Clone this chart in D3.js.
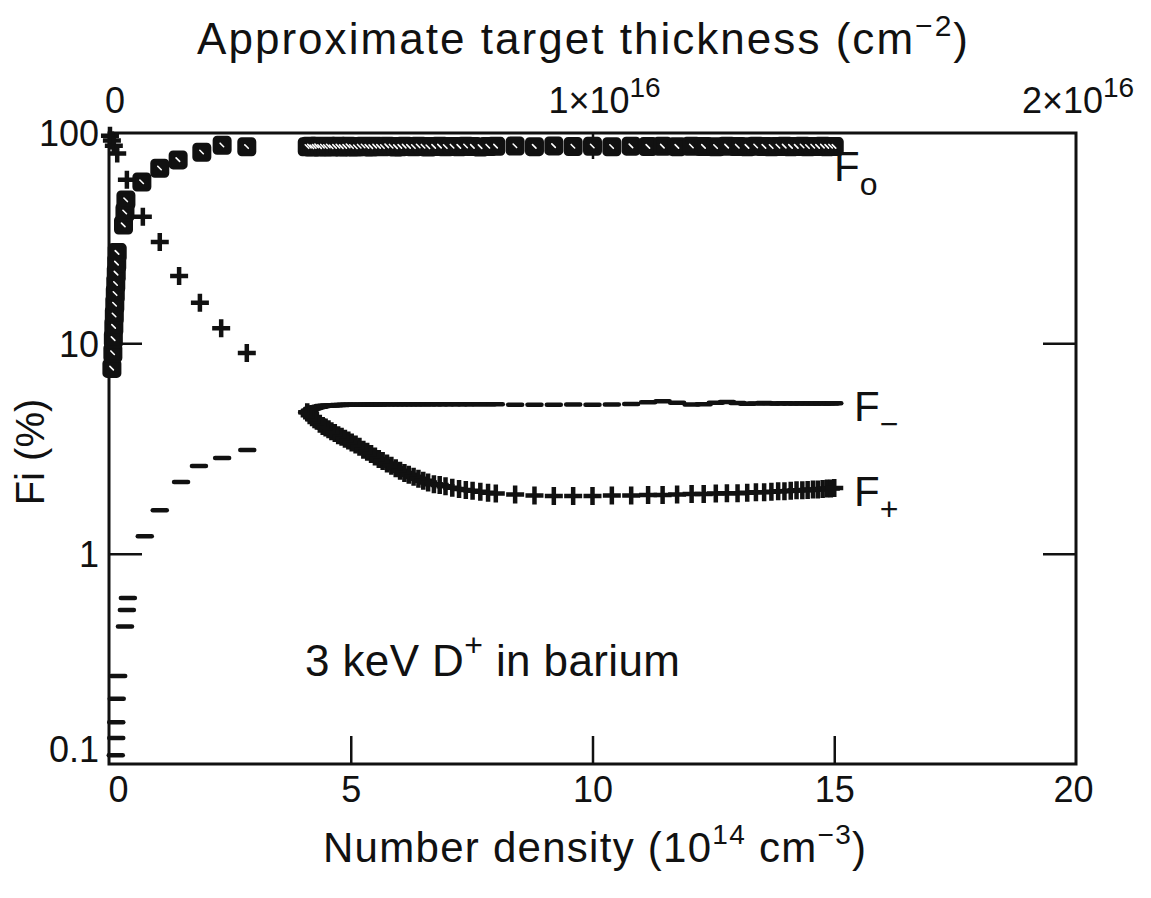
<!DOCTYPE html>
<html>
<head>
<meta charset="utf-8">
<script src="https://cdn.jsdelivr.net/npm/d3@7"></script>
<style>
  body { margin: 0; background: #fff; }
  svg text { font-family: "Liberation Sans", Arial, sans-serif; fill: #111; }
</style>
</head>
<body>
<svg id="chart" width="1151" height="898"></svg>
<script>
// ---- charge-state fractions of 3 keV D+ after a barium vapour target ----

// low-density runs (density in 1e14 cm^-3, fraction in %)
const f0LowDensity   = [0.06, 0.08, 0.09, 0.10, 0.11, 0.12, 0.13, 0.14, 0.15, 0.16, 0.17, 0.30, 0.33, 0.35, 0.68, 1.05, 1.43, 1.92, 2.34, 2.85];
const f0LowValue     = [7.6, 9.0, 10.5, 12.0, 13.6, 15.3, 17.2, 19.2, 21.5, 24.0, 27.0, 36.5, 42.0, 48.0, 58.5, 68.0, 74.5, 81.0, 87.5, 86.0];

const fPlusLowDensity = [0.02, 0.06, 0.10, 0.17, 0.37, 0.70, 1.05, 1.45, 1.88, 2.32, 2.85];
const fPlusLowValue   = [97, 92, 87, 80, 60, 40, 30.3, 20.9, 15.6, 11.8, 9.0];

const fMinusLowDensity = [0.14, 0.15, 0.15, 0.16, 0.19, 0.33, 0.37, 0.39, 0.74, 1.05, 1.49, 1.86, 2.34, 2.86];
const fMinusLowValue   = [0.11, 0.133, 0.158, 0.204, 0.262, 0.45, 0.54, 0.615, 1.21, 1.61, 2.19, 2.61, 2.85, 3.11];

// continuous density sweep from 4 to 15 (same densities for all three fractions)
const sweepDensity = [4.10, 4.15, 4.20, 4.25, 4.30, 4.36, 4.42, 4.48, 4.54, 4.60,
                      4.67, 4.74, 4.81, 4.88, 4.95, 5.02, 5.10, 5.18, 5.26, 5.34,
                      5.42, 5.50, 5.58, 5.66, 5.75, 5.84, 5.93, 6.02, 6.11, 6.20,
                      6.30, 6.40, 6.50, 6.60, 6.72, 6.84, 6.96, 7.10, 7.24, 7.38,
                      7.52, 7.68, 7.84, 8.00, 8.40, 8.80, 9.20, 9.60, 10.00, 10.40,
                      10.80, 11.15, 11.45, 11.75, 12.05, 12.30, 12.55, 12.78, 13.00, 13.20,
                      13.38, 13.55, 13.70, 13.84, 13.97, 14.10, 14.22, 14.34, 14.45, 14.56,
                      14.66, 14.76, 14.85, 14.93, 15.00];
const sweepF0 = [86.0, 86.4, 85.8, 86.2, 86.6, 85.9, 86.3, 86.0, 86.5, 85.8,
                 86.2, 86.4, 85.9, 86.1, 86.6, 86.0, 85.8, 86.3, 86.5, 86.1,
                 85.9, 86.4, 86.2, 86.0, 86.6, 86.3, 85.9, 86.1, 86.4, 86.2,
                 86.0, 86.5, 86.3, 85.8, 86.2, 86.4, 86.0, 86.3, 86.1, 86.5,
                 86.2, 85.9, 86.3, 86.4, 86.7, 86.1, 86.8, 86.3, 86.5, 86.0,
                 86.6, 86.2, 86.4, 86.1, 86.5, 86.2, 86.0, 86.4, 86.3, 86.1,
                 86.5, 86.2, 86.0, 86.3, 86.4, 86.1, 86.2, 86.5, 86.0, 86.3,
                 86.2, 86.4, 86.1, 86.3, 86.2];
const sweepFMinus = [4.70, 4.80, 4.88, 4.93, 4.97, 5.00, 5.03, 5.05, 5.06, 5.07,
                     5.08, 5.09, 5.09, 5.10, 5.10, 5.10, 5.11, 5.11, 5.11, 5.12,
                     5.12, 5.12, 5.12, 5.13, 5.13, 5.13, 5.13, 5.13, 5.13, 5.14,
                     5.14, 5.14, 5.14, 5.14, 5.14, 5.14, 5.14, 5.14, 5.14, 5.14,
                     5.14, 5.14, 5.13, 5.13, 5.10, 5.10, 5.11, 5.12, 5.11, 5.12,
                     5.15, 5.24, 5.30, 5.22, 5.12, 5.14, 5.22, 5.26, 5.20, 5.16,
                     5.18, 5.20, 5.18, 5.17, 5.19, 5.18, 5.18, 5.19, 5.18, 5.18,
                     5.19, 5.18, 5.19, 5.18, 5.19];
const sweepFPlus = [4.70, 4.55, 4.45, 4.35, 4.28, 4.15, 4.05, 3.98, 3.90, 3.82,
                    3.75, 3.66, 3.60, 3.52, 3.45, 3.38, 3.30, 3.22, 3.12, 3.05,
                    2.98, 2.90, 2.82, 2.76, 2.68, 2.62, 2.55, 2.48, 2.42, 2.37,
                    2.32, 2.27, 2.22, 2.18, 2.14, 2.12, 2.09, 2.06, 2.03, 2.01,
                    1.99, 1.97, 1.95, 1.93, 1.91, 1.89, 1.88, 1.88, 1.88, 1.89,
                    1.89, 1.90, 1.90, 1.91, 1.92, 1.92, 1.93, 1.94, 1.94, 1.95,
                    1.96, 1.96, 1.97, 1.98, 1.98, 1.99, 2.00, 2.00, 2.01, 2.02,
                    2.02, 2.03, 2.04, 2.04, 2.05];

// axis ticks
const xTickValues = [0, 5, 10, 15, 20];
const yTickValues = [0.1, 1, 10, 100];
const yTickLabels = ["0.1", "1", "10", "100"];
const topTickValues = [0, 1e16, 2e16];
const topTickMantissa = ["0", "1×10", "2×10"];
const topTickExponent = ["", "16", "16"];

// ---- layout ----
const svg = d3.select("#chart");
const plotLeft = 109, plotRight = 1076, plotTop = 133, plotBottom = 764;

const x = d3.scaleLinear().domain([0, 20]).range([plotLeft, plotRight]);
const xTop = d3.scaleLinear().domain([0, 2e16]).range([plotLeft, plotRight]);
const y = d3.scaleLog().domain([0.1, 100]).range([plotBottom, plotTop]);

const ink = "#111";
const tickFont = 36;

// frame
svg.append("rect")
  .attr("x", plotLeft).attr("y", plotTop)
  .attr("width", plotRight - plotLeft).attr("height", plotBottom - plotTop)
  .attr("fill", "none").attr("stroke", ink).attr("stroke-width", 3);

// bottom axis: ticks point inward
const gx = svg.append("g").attr("transform", `translate(0,${plotBottom})`)
  .call(d3.axisBottom(x).tickValues(xTickValues).tickSize(-28).tickPadding(10).tickFormat(d3.format("d")));
gx.select(".domain").remove();
gx.selectAll(".tick line").attr("stroke", ink).attr("stroke-width", 2.5)
  .filter(d => d === 0 || d === 20).remove();
gx.selectAll(".tick text")
  .attr("font-size", tickFont).attr("font-family", "Liberation Sans, Arial, sans-serif").attr("fill", ink)
  .attr("dy", "0.78em")
  .attr("dx", d => d === 0 ? 9 : d === 20 ? -3 : 0);

// left axis
const gy = svg.append("g").attr("transform", `translate(${plotLeft},0)`)
  .call(d3.axisLeft(y).tickValues(yTickValues).tickSize(-33).tickPadding(10)
    .tickFormat((d, i) => yTickLabels[i]));
gy.select(".domain").remove();
gy.selectAll(".tick line").attr("stroke", ink).attr("stroke-width", 2.5)
  .filter(d => d === 0.1 || d === 100).remove();
gy.selectAll(".tick text")
  .attr("font-size", tickFont).attr("font-family", "Liberation Sans, Arial, sans-serif").attr("fill", ink)
  .attr("dy", d => d === 0.1 ? "-0.06em" : "0.36em");

// right axis (marks only)
const gr = svg.append("g").attr("transform", `translate(${plotRight},0)`)
  .call(d3.axisRight(y).tickValues([1, 10]).tickSize(-33).tickFormat(""));
gr.select(".domain").remove();
gr.selectAll(".tick line").attr("stroke", ink).attr("stroke-width", 2.5);

// top axis: approximate target thickness
const gt = svg.append("g").attr("transform", `translate(0,${plotTop})`)
  .call(d3.axisTop(xTop).tickValues([1e16]).tickSize(-26).tickFormat(""));
gt.select(".domain").remove();
gt.selectAll(".tick line").attr("stroke", ink).attr("stroke-width", 2.5);

const topLabels = svg.append("g");
topTickValues.forEach((v, i) => {
  const t = topLabels.append("text")
    .attr("x", xTop(v) + (i === 0 ? 6 : i === 1 ? 12 : 2))
    .attr("y", 113)
    .attr("text-anchor", "middle")
    .attr("font-size", tickFont);
  t.append("tspan").text(topTickMantissa[i]);
  if (topTickExponent[i]) {
    t.append("tspan").attr("dy", -16).attr("font-size", 28).text(topTickExponent[i]);
  }
});

// titles
const title = svg.append("text").attr("x", 197).attr("y", 54)
  .attr("font-size", 44).attr("textLength", 771).attr("lengthAdjust", "spacing");
title.append("tspan").text("Approximate target thickness (cm");
title.append("tspan").attr("dy", -18).attr("font-size", 30).text("−2");
title.append("tspan").attr("dy", 18).text(")");

const xTitle = svg.append("text").attr("x", 323).attr("y", 862)
  .attr("font-size", 42).attr("textLength", 543).attr("lengthAdjust", "spacing");
xTitle.append("tspan").text("Number density (10");
xTitle.append("tspan").attr("dy", -18).attr("font-size", 28).text("14");
xTitle.append("tspan").attr("dy", 18).text(" cm");
xTitle.append("tspan").attr("dy", -18).attr("font-size", 28).text("−3");
xTitle.append("tspan").attr("dy", 18).text(")");

svg.append("text")
  .attr("transform", "translate(44,452) rotate(-90)")
  .attr("text-anchor", "middle").attr("font-size", 40)
  .text("Fi (%)");

const note = svg.append("text").attr("x", 305).attr("y", 676)
  .attr("font-size", 44).attr("textLength", 375).attr("lengthAdjust", "spacing");
note.append("tspan").text("3 keV D");
note.append("tspan").attr("dy", -20).attr("font-size", 32).text("+");
note.append("tspan").attr("dy", 20).text(" in barium");

// series labels
function seriesLabel(xPos, yPos, sub) {
  const t = svg.append("text").attr("x", xPos).attr("y", yPos).attr("font-size", 42);
  t.append("tspan").text("F");
  t.append("tspan").attr("dy", 14).attr("font-size", 32).text(sub);
}
seriesLabel(834, 181, "o");
seriesLabel(854, 421, "−");
seriesLabel(854, 506, "+");

// ---- markers ----
const plot = svg.append("g");

function squares(ds, vs) {
  const g = plot.append("g");
  g.selectAll("rect").data(ds).join("rect")
    .attr("x", d => x(d) - 8)
    .attr("y", (d, i) => y(vs[i]) - 8)
    .attr("width", 16).attr("height", 16).attr("rx", 3)
    .attr("fill", ink).attr("stroke", ink).attr("stroke-width", 3);
  // small light streak inside each square
  g.selectAll("path").data(ds).join("path")
    .attr("d", (d, i) => {
      const cx = x(d), cy = y(vs[i]);
      return `M${cx - 2},${cy - 2}L${cx + 1.5},${cy + 1.5}`;
    })
    .attr("stroke", "#fff").attr("stroke-width", 1.6).attr("stroke-linecap", "round");
}
function pluses(ds, vs) {
  plot.append("g").selectAll("path").data(ds).join("path")
    .attr("d", (d, i) => {
      const cx = x(d), cy = y(vs[i]);
      return `M${cx - 9},${cy}H${cx + 9}M${cx},${cy - 9}V${cy + 9}`;
    })
    .attr("stroke", ink).attr("stroke-width", 4.5).attr("fill", "none");
}
function dashes(ds, vs) {
  plot.append("g").selectAll("path").data(ds).join("path")
    .attr("d", (d, i) => {
      const cx = x(d), cy = y(vs[i]);
      return `M${cx - 7},${cy}H${cx + 7}`;
    })
    .attr("stroke", ink).attr("stroke-width", 4.5).attr("stroke-linecap", "round").attr("fill", "none");
}

squares(f0LowDensity, f0LowValue);
squares(sweepDensity, sweepF0);
dashes(fMinusLowDensity, fMinusLowValue);
dashes(sweepDensity, sweepFMinus);
pluses(fPlusLowDensity, fPlusLowValue);
pluses(sweepDensity, sweepFPlus);
</script>
</body>
</html>
